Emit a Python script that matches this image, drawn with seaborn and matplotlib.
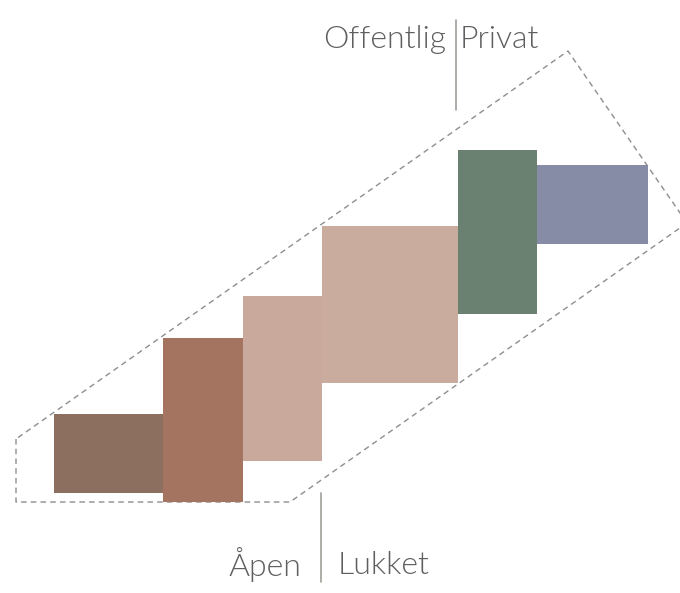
import numpy as np
import pandas as pd
import matplotlib.pyplot as plt
import seaborn as sns

# blocks: left edge, width, bottom, top (chart units, y upwards)
left = [54, 163, 243, 322, 458, 537]
width = [109, 80, 79, 136, 79, 111]
bottom = [100, 91, 132, 210, 279, 349]
top = [179, 255, 297, 367, 443, 428]
colors = ['#8C6F5E', '#A57460', '#C9A99B', '#C9AC9E', '#6A8070', '#868BA6']

# dashed outline around the blocks
outline_x = [16, 16, 290, 687, 568, 16]
outline_y = [154, 91, 91, 370, 542, 154]

# divider labels
top_labels = ['Offentlig', 'Privat']
bottom_labels = ['Åpen', 'Lukket']

sns.set_theme(style='white')
plt.rcParams['font.family'] = ['Lato', 'DejaVu Sans']

fig = plt.figure(figsize=(6.8, 5.93), dpi=100)
ax = fig.add_axes([0, 0, 1, 1])
ax.set_xlim(0, 680)
ax.set_ylim(0, 593)
ax.axis('off')

df = pd.DataFrame({'left': left, 'width': width, 'bottom': bottom, 'top': top})
ax.bar(df['left'], df['top'] - df['bottom'], width=df['width'], bottom=df['bottom'],
       align='edge', color=colors, edgecolor='none', zorder=2)

ax.plot(outline_x, outline_y, ls=(0, (4, 3)), color='#8e8e8e', lw=1, zorder=1)

txt = dict(fontsize=23, fontweight=300, color='#5f5f5f')

# top divider
ax.plot([456, 456], [483, 573], color='#a09f98', lw=1.2)
ax.text(446, 553, top_labels[0], ha='right', va='center', **txt)
ax.text(460, 553, top_labels[1], ha='left', va='center', **txt)

# bottom divider
ax.plot([321, 321], [11, 100], color='#a09f98', lw=1.2)
ax.text(301, 28, bottom_labels[0], ha='right', va='center', **txt)
ax.text(338, 28, bottom_labels[1], ha='left', va='center', **txt)

fig.savefig('out.png', dpi=100)
